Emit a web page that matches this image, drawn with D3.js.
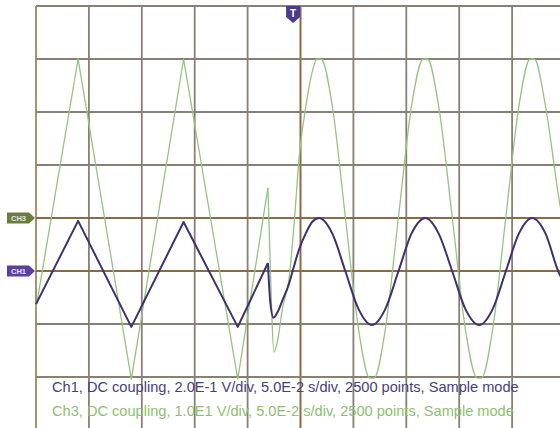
<!DOCTYPE html>
<html><head><meta charset="utf-8">
<script src="https://cdn.jsdelivr.net/npm/d3@7"></script>
<style>html,body{margin:0;padding:0;background:#fff;overflow:hidden}</style>
</head><body><svg id="c" width="560" height="428"></svg>
<script>
// time grid (ms) and vertical divisions
const timeGrid = [-250,-200,-150,-100,-50,0,50,100,150,200,250];
const divGrid = [-4,-3,-2,-1,0,1,2,3,4];

// Ch1 (V) : triangle part then sine part  [time ms, volts]
const ch1Triangle = [[-250,-0.125],[-210.2,0.189],[-159.9,-0.211],[-110.5,0.185],[-59.3,-0.211],[-30.8,0.03]];
const ch1Sine = [[-30.8,0.03],[-28.5,-0.12],[-25.5,-0.176],[-22,-0.158],[-17,-0.11],[-11,-0.05],[-6,0.02],[-1.5,0.08],[5,0.142],[11,0.185],[17.5,0.2],
  [30,0.142],[42.5,-0.002],[55,-0.145],[67.5,-0.204],[80,-0.145],[92.5,-0.002],[105,0.142],[118,0.2],
  [130.5,0.142],[143.5,-0.002],[156,-0.145],[169,-0.204],[181.5,-0.145],[194,-0.002],[206.5,0.142],[219,0.2],
  [231.5,0.142],[244,-0.005],[250,-0.05]];

// Ch3 (V)
const ch3Triangle = [[-250,-17],[-210.2,30],[-159.9,-30.4],[-110.5,30],[-59.3,-30.4],[-30.8,5.7]];
const ch3Sine = [[-30.8,5.7],[-27.5,-16],[-25.2,-25.3],[-22,-23.5],[-17,-17],[-11,-11.7],[-6,-1],[-1.5,10.9],[5,21],[11,27.5],[15.5,30],[19.5,30],
  [30,21.2],[42.5,0],[55,-21.2],[65.5,-30.2],[69.5,-30.2],[80,-21.2],[92.5,0],[105,21.2],[116,30],[120,30],
  [130.5,21.2],[143.5,0],[156,-21.2],[167,-30.2],[171,-30.2],[181.5,-21.2],[194,0],[206.5,21.2],[217,30],[221,30],
  [231.5,21.2],[244,4],[250,-3]];

const channelNames = ["CH3","CH1"];
const channelColors = ["#6b7d3c","#5b3f9f"];
const infoLines = [
  "Ch1, DC coupling, 2.0E-1 V/div, 5.0E-2 s/div, 2500 points, Sample mode",
  "Ch3, DC coupling, 1.0E1 V/div, 5.0E-2 s/div, 2500 points, Sample mode"
];
const infoColors = ["#4a3d7c","#8cbf70"];
const triggerTime = -7;

const svg = d3.select("#c");
svg.append("rect").attr("width",560).attr("height",428).attr("fill","#fff");

const x = d3.scaleLinear().domain([-250,250]).range([36,565]);
const yDiv = d3.scaleLinear().domain([-4,4]).range([430,6]);
const y1 = d3.scaleLinear().domain([-0.6,1.0]).range([430,6]);
const y3 = d3.scaleLinear().domain([-40,40]).range([430,6]);

const grid = svg.append("g");
grid.selectAll("line.v").data(timeGrid).join("line")
  .attr("x1",d=>x(d)).attr("x2",d=>x(d)).attr("y1",yDiv(4)).attr("y2",yDiv(-4))
  .attr("stroke",d=> d===0 ? "#8c6a44" : (d===-250 ? "#a3855a" : "#8a7f74"))
  .attr("stroke-width",d=> d===0 ? 2 : 1.8);
grid.selectAll("line.h").data(divGrid).join("line")
  .attr("y1",d=>yDiv(d)).attr("y2",d=>yDiv(d)).attr("x1",x(-250)).attr("x2",x(250))
  .attr("stroke",d=> (d===0||d===-1) ? "#8c6a44" : "#8a7f74")
  .attr("stroke-width",1.8);

const lineLin = (ys) => d3.line().x(d=>x(d[0])).y(d=>ys(d[1])).curve(d3.curveLinear);
const lineSm = (ys) => d3.line().x(d=>x(d[0])).y(d=>ys(d[1])).curve(d3.curveMonotoneX);

const g3 = svg.append("g").attr("fill","none").attr("stroke","#92c580").attr("stroke-width",1.3).attr("stroke-linejoin","round");
g3.append("path").attr("d",lineLin(y3)(ch3Triangle));
g3.append("path").attr("d",lineSm(y3)(ch3Sine));

const g1 = svg.append("g").attr("fill","none").attr("stroke","#3d3170").attr("stroke-width",2).attr("stroke-linejoin","round");
g1.append("path").attr("d",lineLin(y1)(ch1Triangle));
g1.append("path").attr("d",lineSm(y1)(ch1Sine));

// channel markers
const markerY = [y3(0), y1(0)];
channelNames.forEach((n,i)=>{
  const yy = markerY[i];
  const gm = svg.append("g");
  gm.append("path").attr("d",`M7,${yy-5.5}H29L35,${yy}L29,${yy+5.5}H7Z`).attr("fill",channelColors[i]);
  gm.append("text").attr("x",18.5).attr("y",yy+3).attr("text-anchor","middle")
    .attr("font-family","Liberation Sans, Arial, sans-serif").attr("font-size",7.5).attr("font-weight","bold")
    .attr("fill","#e8e4f0").text(n);
});

// trigger marker
const tx = x(triggerTime);
svg.append("path").attr("d",`M${tx-7},6H${tx+7}V17L${tx},23L${tx-7},17Z`).attr("fill","#4b3a8a");
svg.append("text").attr("x",tx).attr("y",16.5).attr("text-anchor","middle")
  .attr("font-family","Liberation Sans, Arial, sans-serif").attr("font-size",10).attr("font-weight","bold")
  .attr("fill","#fff").text("T");

// info text
infoLines.forEach((t,i)=>{
  svg.append("text").attr("x",52).attr("y",392+i*23.5)
    .attr("font-family","Liberation Sans, Arial, sans-serif").attr("font-size",14.6)
    .attr("fill",infoColors[i]).text(t);
});
</script></body></html>
